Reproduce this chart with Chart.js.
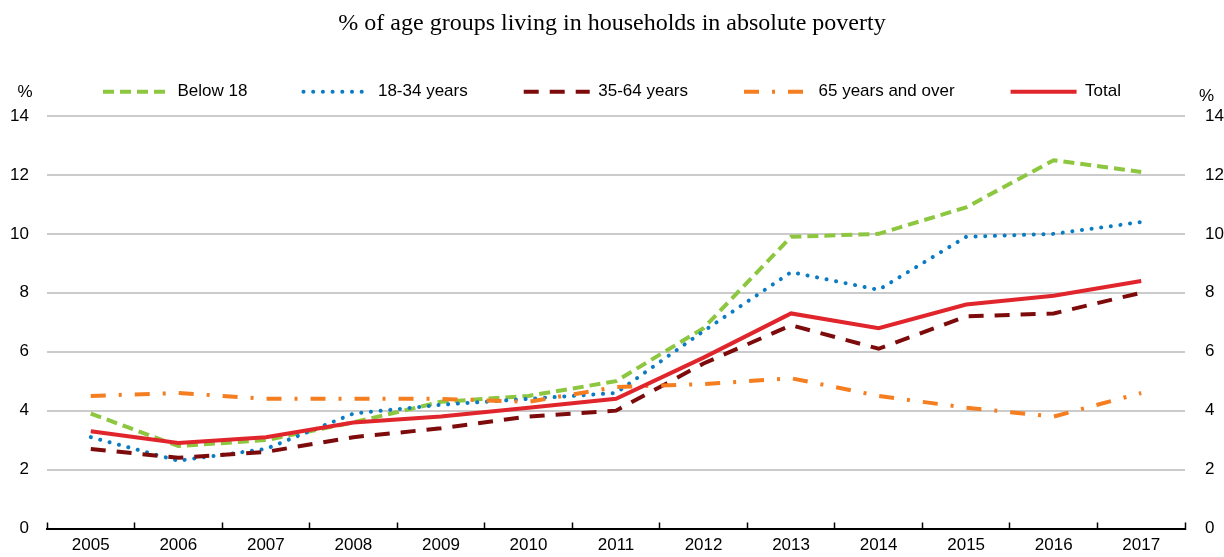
<!DOCTYPE html>
<html>
<head>
<meta charset="utf-8">
<script src="https://cdn.jsdelivr.net/npm/chart.js@4.4.1/dist/chart.umd.min.js"></script>
<style>
  html, body { margin: 0; padding: 0; background: #fff; }
  #wrap { width: 1224px; height: 557px; position: relative; }
</style>
</head>
<body>
<div id="wrap"><canvas id="povertyChart"></canvas></div>
<script>
const years = ["2005", "2006", "2007", "2008", "2009", "2010", "2011", "2012", "2013", "2014", "2015", "2016", "2017"];
const below18 = [3.9, 2.8, 3.0, 3.6, 4.3, 4.5, 5.0, 6.8, 9.9, 10.0, 10.9, 12.5, 12.1];
const age18to34 = [3.1, 2.3, 2.7, 3.9, 4.2, 4.4, 4.6, 6.7, 8.7, 8.1, 9.9, 10.0, 10.4];
const age35to64 = [2.7, 2.4, 2.6, 3.1, 3.4, 3.8, 4.0, 5.6, 6.9, 6.1, 7.2, 7.3, 8.0];
const age65plus = [4.5, 4.6, 4.4, 4.4, 4.4, 4.3, 4.8, 4.9, 5.1, 4.5, 4.1, 3.8, 4.6];
const total = [3.3, 2.9, 3.1, 3.6, 3.8, 4.1, 4.4, 5.8, 7.3, 6.8, 7.6, 7.9, 8.4];
const yTicks = [0, 2, 4, 6, 8, 10, 12, 14];

const sansFont = "'Liberation Sans', Arial, sans-serif";
const serifFont = "'Liberation Serif', 'Times New Roman', serif";

Chart.defaults.color = "#000";
Chart.defaults.font.family = sansFont;

const series = [
  { label: "Below 18", data: below18, color: "#8DC63F", dash: [11, 6], cap: "butt", order: 4 },
  { label: "18-34 years", data: age18to34, color: "#0B7CC4", dash: [0.1, 9.6], cap: "round", order: 3 },
  { label: "35-64 years", data: age35to64, color: "#7E0B0B", dash: [15, 11], cap: "butt", order: 2 },
  { label: "65 years and over", data: age65plus, color: "#F47E20", dash: [15, 13, 3, 13], cap: "butt", order: 1 },
  { label: "Total", data: total, color: "#E0262C", dash: [], cap: "butt", order: 0 },
];

// "%" unit labels above both y axes
const unitLabels = {
  id: "unitLabels",
  afterDraw(chart) {
    const ctx = chart.ctx;
    ctx.save();
    ctx.font = "17px " + sansFont;
    ctx.fillStyle = "#000";
    ctx.textBaseline = "middle";
    ctx.textAlign = "center";
    ctx.fillText("%", chart.chartArea.left - 22, 92);
    ctx.textAlign = "left";
    ctx.fillText("%", chart.chartArea.right + 14, 96);
    ctx.restore();
  },
};

new Chart(document.getElementById("povertyChart"), {
  type: "line",
  data: {
    labels: years,
    datasets: series.map((s) => ({
      label: s.label,
      data: s.data,
      borderColor: s.color,
      backgroundColor: s.color,
      borderWidth: 4,
      borderDash: s.dash,
      borderCapStyle: s.cap,
      pointRadius: 0,
      tension: 0,
      fill: false,
      order: s.order,
    })),
  },
  options: {
    responsive: true,
    maintainAspectRatio: false,
    animation: false,
    layout: {
      padding: 0,
    },
    plugins: {
      title: {
        display: true,
        text: "% of age groups living in households in absolute poverty",
        font: { family: serifFont, size: 24, weight: "normal", lineHeight: 0.3 },
        color: "#000",
        padding: { top: 20, bottom: 0 },
      },
      subtitle: {
        display: true,
        text: "",
        weight: 500,
        font: { size: 1, lineHeight: 1 },
        padding: { top: 4.8, bottom: 0 },
      },
      legend: {
        display: true,
        position: "top",
        align: "center",
        labels: {
          font: { family: sansFont, size: 17 },
          color: "#000",
          padding: 56,
          usePointStyle: true,
          pointStyleWidth: 66,
          generateLabels() {
            return series.map((s, i) => ({
              text: s.label,
              fillStyle: s.color,
              strokeStyle: s.color,
              lineWidth: 4,
              lineDash: s.dash,
              lineCap: s.cap,
              pointStyle: "line",
              fontColor: "#000",
              hidden: false,
              datasetIndex: i,
            }));
          },
        },
      },
      tooltip: { enabled: false },
    },
    scales: {
      x: {
        type: "category",
        offset: true,
        afterFit(scale) {
          scale.height = 27;
        },
        grid: {
          display: true,
          offset: true,
          drawOnChartArea: false,
          drawTicks: true,
          tickLength: -6,
          tickWidth: 1.5,
          tickColor: "#000",
        },
        border: { display: true, color: "#000", width: 2 },
        ticks: {
          font: { family: sansFont, size: 17, lineHeight: 1 },
          color: "#000",
          padding: 14,
          maxRotation: 0,
          autoSkip: false,
        },
      },
      y: {
        position: "left",
        min: 0,
        max: 14,
        afterBuildTicks(scale) {
          scale.ticks = yTicks.map((v) => ({ value: v }));
        },
        afterFit(scale) {
          scale.width = 47;
        },
        grid: {
          drawTicks: false,
          lineWidth: 2,
          color: (c) => (c.tick && c.tick.value === 0 ? "rgba(0,0,0,0)" : "#CBCBCB"),
        },
        border: { display: false },
        ticks: {
          font: { family: sansFont, size: 17, lineHeight: 1 },
          color: "#000",
          padding: 18,
        },
      },
      y2: {
        position: "right",
        min: 0,
        max: 14,
        afterBuildTicks(scale) {
          scale.ticks = yTicks.map((v) => ({ value: v }));
        },
        afterFit(scale) {
          scale.width = 39;
        },
        grid: { display: false, drawTicks: false },
        border: { display: false },
        ticks: {
          font: { family: sansFont, size: 17, lineHeight: 1 },
          color: "#000",
          padding: 20,
        },
      },
    },
  },
  plugins: [unitLabels],
});
</script>
</body>
</html>
